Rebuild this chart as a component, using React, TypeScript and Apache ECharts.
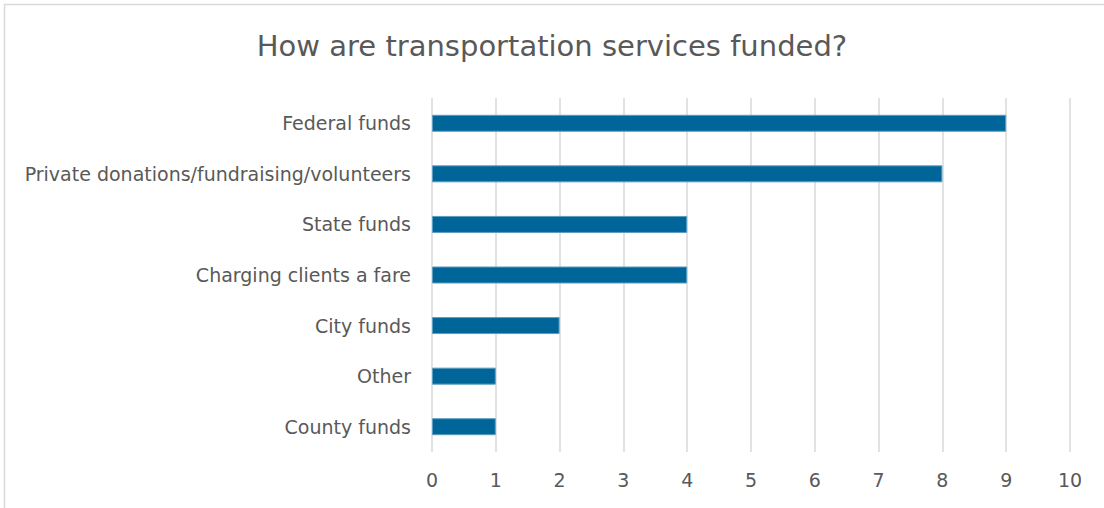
import React, { useEffect, useRef } from "react";
import * as echarts from "echarts";

const categories = [
  "Federal funds",
  "Private donations/fundraising/volunteers",
  "State funds",
  "Charging clients a fare",
  "City funds",
  "Other",
  "County funds",
];
const values = [9, 8, 4, 4, 2, 1, 1];
const titleText = "How are transportation services funded?";

export default function App() {
  const ref = useRef<HTMLDivElement>(null);
  useEffect(() => {
    if (!ref.current) return;
    const chart = echarts.init(ref.current, null, { renderer: "svg" });
    chart.setOption({
      animation: false,
      backgroundColor: "#ffffff",
      textStyle: { fontFamily: "DejaVu Sans" },
      title: {
        text: titleText,
        left: "center",
        top: 26,
        textStyle: { fontFamily: "DejaVu Sans", fontSize: 29, fontWeight: "normal", color: "#595959" },
      },
      graphic: [
        {
          type: "rect",
          shape: { x: 4.5, y: 4.5, width: 1120, height: 540 },
          style: { fill: "none", stroke: "#d9d9d9", lineWidth: 1.5 },
          silent: true,
        },
      ],
      grid: { left: 432, right: 34, top: 98, bottom: 56, containLabel: false },
      xAxis: {
        type: "value",
        min: 0,
        max: 10,
        interval: 1,
        axisLine: { show: false },
        axisTick: { show: false },
        axisLabel: { color: "#595959", fontSize: 19, margin: 18, fontFamily: "DejaVu Sans" },
        splitLine: { show: true, lineStyle: { color: "#d9d9d9", width: 1.5 } },
      },
      yAxis: {
        type: "category",
        data: categories,
        inverse: true,
        axisLine: { show: false },
        axisTick: { show: false },
        axisLabel: { color: "#595959", fontSize: 19, margin: 21, fontFamily: "DejaVu Sans" },
      },
      series: [
        {
          type: "bar",
          data: values,
          barWidth: 17,
          itemStyle: { color: "#006699", borderColor: "#5d9cc0", borderWidth: 1 },
        },
      ],
    });
    return () => chart.dispose();
  }, []);
  return (
    <div
      ref={ref}
      style={{ position: "fixed", left: 0, top: 0, width: 1104, height: 508 }}
    />
  );
}
